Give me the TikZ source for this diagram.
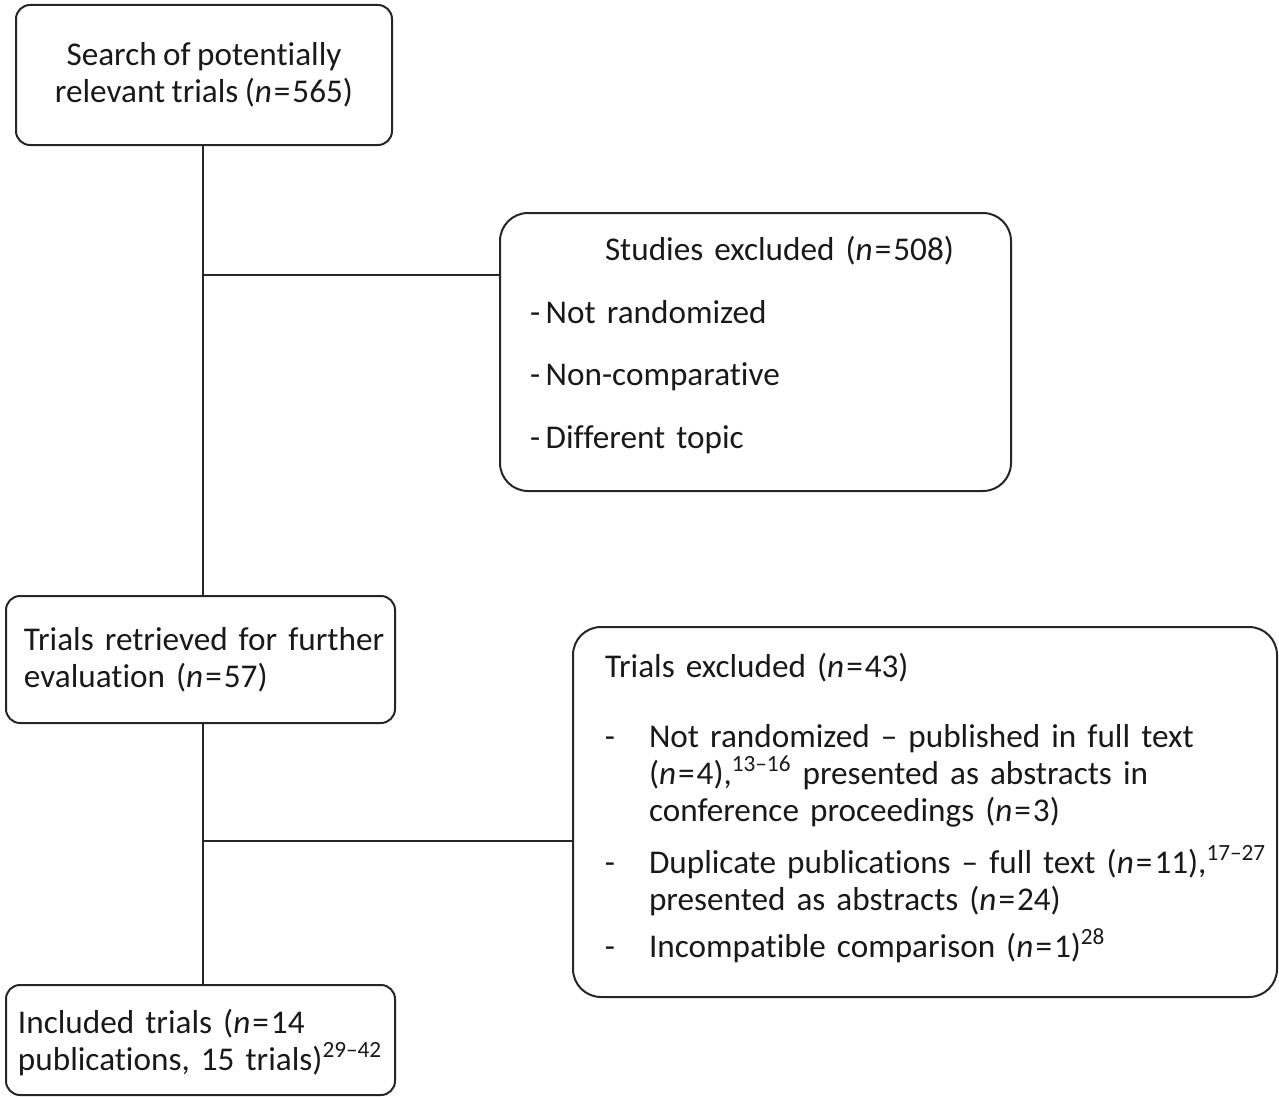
\documentclass[tikz,border=0pt]{standalone}
\usepackage{fontspec}
\setmainfont{Carlito}[Ligatures=NoCommon, WordSpace=0.85]
\newcommand{\nn}[1]{(\textit{n}\kern1pt=\kern1pt#1)}
\newcommand{\exdash}{\leavevmode\llap{-\hspace{17pt}}}

\begin{document}
\begin{tikzpicture}[x=0.5pt,y=-0.5pt,
  every node/.style={font=\fontsize{16.6pt}{18.5pt}\selectfont, text=black!90},
  box/.style={draw=black!85, line width=1pt, rounded corners=7pt, inner sep=0pt},
  bigbox/.style={box, rounded corners=14pt},
  lefttext/.style={align=left, execute at begin node={\rightskip=-30pt plus 1fil}},
  link/.style={draw=black!85, line width=1pt}]
  \useasboundingbox (0,0) rectangle (1279,1097);

  % main column
  \node[box, minimum width=188pt, minimum height=70pt, align=center] (search) at (204,75)
    {Search of potentially\\relevant trials \nn{565}};
  \node[box, lefttext, minimum height=63.5pt, inner xsep=9pt, text width=176.5pt] (retrieved) at (200.5,659.5)
    {Trials retrieved for further\\evaluation \nn{57}};
  \node[box, lefttext, minimum height=55pt, inner xsep=6pt, text width=182.5pt] (included) at (200.5,1040)
    {Included trials (\textit{n}\kern1pt=\kern1pt14\\publications, 15 trials)\textsuperscript{29–42}\par\vspace{-18pt}\mbox{}};

  % exclusion boxes
  \node[bigbox, lefttext, minimum height=139pt, inner xsep=15pt, text width=225.5pt] (studiesout) at (755.5,352)
    {\kern37.5pt Studies excluded \nn{508}\par\vspace{12.75pt}
     -\,Not randomized\par\vspace{12.75pt}
     -\,Non-comparative\par\vspace{12.75pt}
     -\,Different topic\par\vspace{-9pt}\mbox{}};
  \node[bigbox, lefttext, minimum height=185pt, inner xsep=16pt, text width=320pt] (trialsout) at (925,812)
    {Trials excluded \nn{43}\par\vspace{16.5pt}
     \leftskip=22pt
     \exdash Not randomized – published in full text\par
     \nn{4},\textsuperscript{13–16} presented as abstracts in\par
     conference proceedings \nn{3}\par\vspace{7.5pt}
     \exdash Duplicate publications – full text \nn{11},\textsuperscript{17–27}\par
     presented as abstracts \nn{24}\par\vspace{5pt}
     \exdash Incompatible comparison \nn{1}\textsuperscript{28}\par\vspace{-11.5pt}\mbox{}};

  % connectors
  \coordinate (j1) at (203,275);
  \coordinate (j2) at (203,841);
  \draw[link] (j1 |- search.south) -- (j1 |- retrieved.north);
  \draw[link] (j1) -- (j1 -| studiesout.west);
  \draw[link] (j2 |- retrieved.south) -- (j2 |- included.north);
  \draw[link] (j2) -- (j2 -| trialsout.west);
\end{tikzpicture}
\end{document}
